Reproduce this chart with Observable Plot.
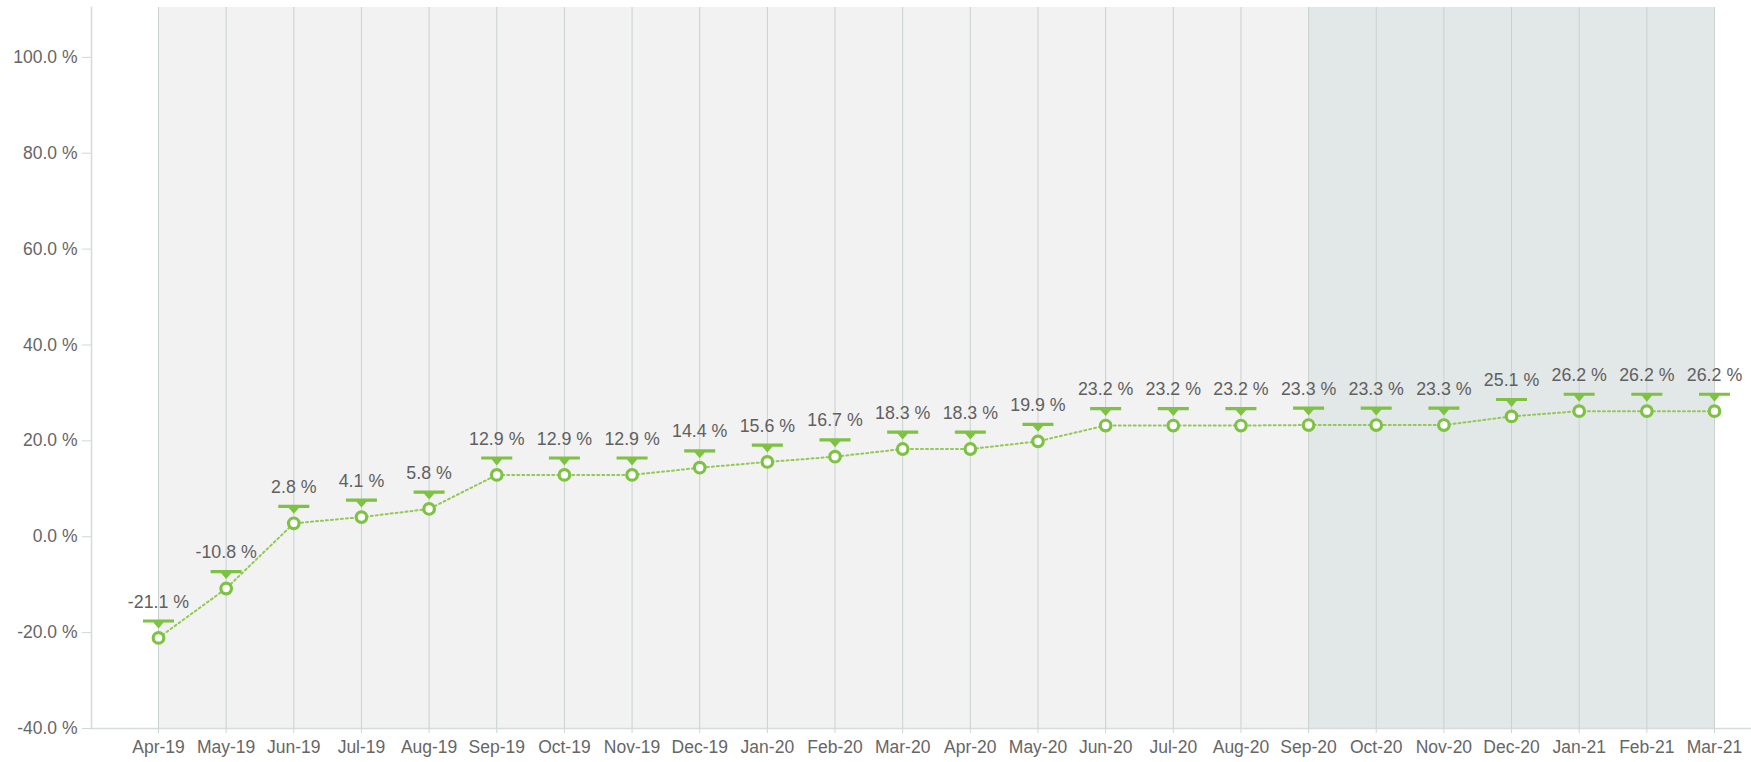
<!DOCTYPE html>
<html>
<head>
<meta charset="utf-8">
<script src="https://cdn.jsdelivr.net/npm/d3@7"></script>
<script src="https://cdn.jsdelivr.net/npm/@observablehq/plot@0.6"></script>
<style>
  html, body { margin: 0; padding: 0; background: #fff; }
  #chart svg { display: block; }
</style>
</head>
<body>
<div id="chart"></div>
<script>
const months = ["Apr-19","May-19","Jun-19","Jul-19","Aug-19","Sep-19","Oct-19","Nov-19","Dec-19","Jan-20","Feb-20","Mar-20","Apr-20","May-20","Jun-20","Jul-20","Aug-20","Sep-20","Oct-20","Nov-20","Dec-20","Jan-21","Feb-21","Mar-21"];
const values = [-21.1,-10.8,2.8,4.1,5.8,12.9,12.9,12.9,14.4,15.6,16.7,18.3,18.3,19.9,23.2,23.2,23.2,23.3,23.3,23.3,25.1,26.2,26.2,26.2];
const yTicks = [-40,-20,0,20,40,60,80,100];
const periods = [
  {from: "Apr-19", to: "Sep-20", fill: "#f2f2f2"},
  {from: "Sep-20", to: "Mar-21", fill: "#e2e7e7"}
];

const data = months.map((m, i) => ({i, m, v: values[i]}));
const idx = m => months.indexOf(m);
const yMin = -40, yMax = 110.4;

const green = "#7dc242";
const font = "'Liberation Sans', Arial, sans-serif";

// Custom marker: a bar with a small downward triangle above the point
const flagSymbol = {
  draw(ctx) {
    ctx.moveTo(-15.5, -18.5);
    ctx.lineTo(15.5, -18.5);
    ctx.lineTo(15.5, -15.3);
    ctx.lineTo(5, -15.3);
    ctx.lineTo(0, -9.5);
    ctx.lineTo(-5, -15.3);
    ctx.lineTo(-15.5, -15.3);
    ctx.closePath();
  }
};

const chart = Plot.plot({
  width: 1751,
  height: 762,
  marginLeft: 91,
  marginRight: 0,
  marginTop: 7,
  marginBottom: 34,
  style: {fontFamily: font, background: "#fff"},
  x: {type: "linear", domain: [0, months.length - 1], range: [158, 1714]},
  y: {domain: [yMin, yMax], nice: false},
  marks: [
    Plot.rect(periods, {x1: d => idx(d.from), x2: d => idx(d.to), y1: yMin, y2: yMax, fill: d => d.fill}),
    Plot.ruleX(data, {x: "i", y1: yMin, y2: yMax, stroke: "#c9d1d1", strokeWidth: 1}),
    Plot.frame({anchor: "left", stroke: "#d3dcdc", strokeWidth: 1.5}),
    Plot.ruleY([yMin], {stroke: "#d6dbdb", strokeWidth: 1.5}),
    Plot.axisY({
      ticks: yTicks, tickFormat: d => d.toFixed(1) + " %", tickSize: 9, tickPadding: 5,
      fontSize: 17.5, color: "#666", stroke: "#cfd8d8", label: null
    }),
    Plot.axisX({
      ticks: d3.range(months.length), tickFormat: i => months[i], tickSize: 5, tickPadding: 7,
      fontSize: 17.5, color: "#666", stroke: "#cfd6d6", label: null
    }),
    Plot.line(data, {x: "i", y: "v", stroke: "#93c955", strokeWidth: 2, strokeDasharray: "2,3"}),
    Plot.dot(data, {x: "i", y: "v", symbol: flagSymbol, fill: green, stroke: "none", r: 5}),
    Plot.dot(data, {x: "i", y: "v", r: 5.3, fill: "#fff", stroke: green, strokeWidth: 3.2}),
    Plot.text(data, {x: "i", y: "v", text: d => d.v.toFixed(1) + " %", dy: -36, fontSize: 17.8, fill: "#606060"})
  ]
});
document.getElementById("chart").appendChild(chart);
</script>
</body>
</html>
